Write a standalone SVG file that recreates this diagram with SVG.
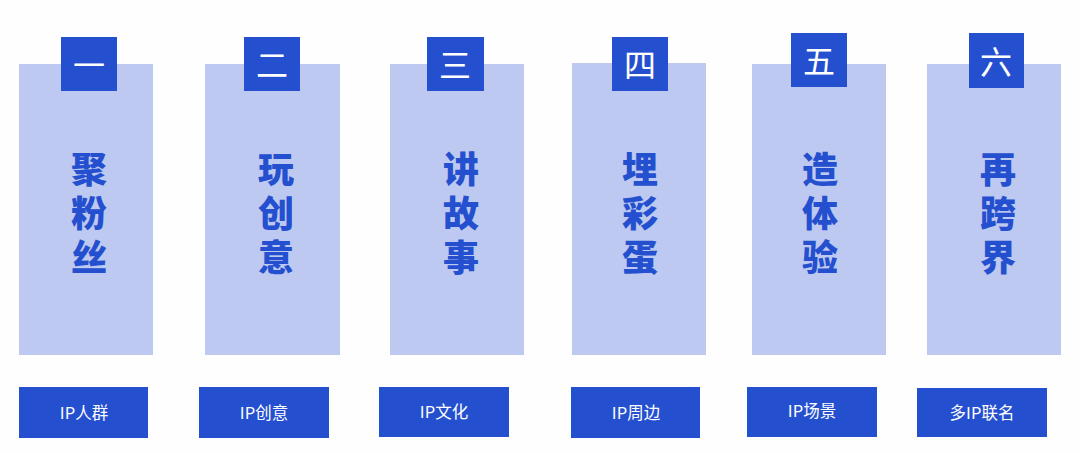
<svg xmlns="http://www.w3.org/2000/svg" width="1080" height="453" viewBox="0 0 1080 453">
<style>
.bg{fill:#BDC9F0}
.sq{fill:#2450CF}
.btn{fill:#2450CF}
.num{font-family:"Noto Sans CJK SC",sans-serif;font-size:32px;fill:#fff;text-anchor:middle;dominant-baseline:central}
.big{font-family:"Noto Sans CJK SC",sans-serif;font-size:36px;font-weight:900;fill:#2450CF;writing-mode:vertical-rl;letter-spacing:8px}
.lab{font-family:"Noto Sans CJK SC",sans-serif;font-size:16.5px;fill:#fff;text-anchor:middle;dominant-baseline:central}
</style>
<rect width="1080" height="453" fill="#FEFEFE"/>
<g id="n1">
<rect class="bg" x="19" y="64" width="134" height="291"/>
<rect class="sq" x="61" y="37" width="56" height="54"/>
<text class="num" x="89" y="63">一</text>
<text class="big" x="89" y="151">聚粉丝</text>
<rect class="btn" x="19" y="387" width="129" height="51"/>
<text class="lab" x="84" y="412">IP人群</text>
</g>
<g id="n2">
<rect class="bg" x="205" y="64" width="135" height="291"/>
<rect class="sq" x="244" y="37" width="56" height="54"/>
<text class="num" x="272" y="63">二</text>
<text class="big" x="276" y="151">玩创意</text>
<rect class="btn" x="199" y="387" width="130" height="51"/>
<text class="lab" x="264" y="412">IP创意</text>
</g>
<g id="n3">
<rect class="bg" x="390" y="64" width="134" height="291"/>
<rect class="sq" x="427" y="37" width="57" height="54"/>
<text class="num" x="455" y="63">三</text>
<text class="big" x="461" y="151">讲故事</text>
<rect class="btn" x="379" y="387" width="130" height="50"/>
<text class="lab" x="444" y="411">IP文化</text>
</g>
<g id="n4">
<rect class="bg" x="572" y="63" width="134" height="292"/>
<rect class="sq" x="612" y="37" width="56" height="54"/>
<text class="num" x="640" y="63">四</text>
<text class="big" x="640" y="151">埋彩蛋</text>
<rect class="btn" x="571" y="387" width="129" height="51"/>
<text class="lab" x="636" y="412">IP周边</text>
</g>
<g id="n5">
<rect class="bg" x="752" y="64" width="134" height="291"/>
<rect class="sq" x="791" y="33" width="56" height="54"/>
<text class="num" x="819" y="59">五</text>
<text class="big" x="820" y="151">造体验</text>
<rect class="btn" x="747" y="387" width="130" height="50"/>
<text class="lab" x="812" y="410">IP场景</text>
</g>
<g id="n6">
<rect class="bg" x="927" y="64" width="134" height="291"/>
<rect class="sq" x="969" y="33" width="55" height="55"/>
<text class="num" x="996" y="60">六</text>
<text class="big" x="998" y="151">再跨界</text>
<rect class="btn" x="917" y="388" width="130" height="49"/>
<text class="lab" x="982" y="412">多IP联名</text>
</g>
<g id="connectors"/>
</svg>
